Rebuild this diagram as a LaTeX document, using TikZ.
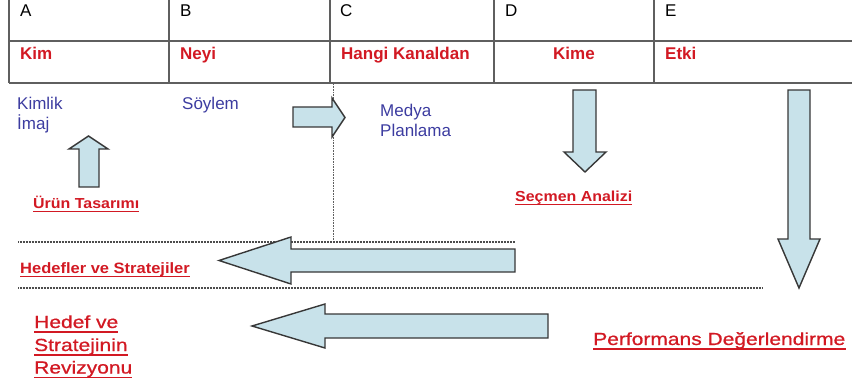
\documentclass[tikz,border=0pt]{standalone}
\usepackage{fontspec}
\setmainfont{Liberation Sans}
\newfontfamily\lblfont[FakeStretch=1.1]{Liberation Sans}
\newfontfamily\bigfont[FakeStretch=1.2,FakeBold=0.8]{Liberation Sans}
\definecolor{tred}{RGB}{210,25,35}
\definecolor{tblue}{RGB}{60,60,160}
\definecolor{afill}{RGB}{200,226,234}
\definecolor{aline}{RGB}{55,55,55}
\definecolor{gridc}{RGB}{95,95,95}
\tikzset{
  gridline/.style={draw=gridc, line width=1.3pt},
  dotline/.style={draw=gridc!80!black, line width=1.2pt, dash pattern=on 0.8pt off 0.7pt},
  vdotline/.style={draw=gridc, line width=0.8pt, dash pattern=on 0.8pt off 0.8pt},
  hdr/.style={anchor=base west, inner sep=0pt, font=\fontsize{17}{20}\selectfont},
  key/.style={anchor=base west, inner sep=0pt, text=tred, font=\fontsize{17}{20}\selectfont\bfseries},
  bluetxt/.style={anchor=base west, inner sep=0pt, text=tblue, font=\fontsize{17}{20}\selectfont},
  smalllbl/.style={anchor=base west, inner sep=0pt, text=tred, font=\lblfont\fontsize{14.5}{17}\selectfont\bfseries},
  biglbl/.style={anchor=base west, inner sep=0pt, text=tred, font=\bigfont\fontsize{17.5}{20}\selectfont},
  arrowshape/.style={fill=afill, draw=aline, line width=1.4pt, line join=miter},
  uline/.style={draw=tred, line width=1.5pt}
}
\begin{document}
\begin{tikzpicture}[x=1pt, y=-1pt]
\useasboundingbox (0,0) rectangle (852,385);
% table
\draw[gridline] (9,0) -- (9,83);
\draw[gridline] (9,41) -- (852,41);
\draw[gridline] (9,83) -- (852,83);
\foreach \cx in {169,330,494,654} \draw[gridline] (\cx,0) -- (\cx,83);
\node[hdr] (hA) at (20,17) {A};
\node[hdr] (hB) at (180,17) {B};
\node[hdr] (hC) at (340,17) {C};
\node[hdr] (hD) at (505,17) {D};
\node[hdr] (hE) at (665,17) {E};
\node[key] (kim) at (20,60) {Kim};
\node[key] (neyi) at (180,60) {Neyi};
\node[key] (hangi) at (341,60) {Hangi Kanaldan};
\node[key, anchor=base] (kime) at (574,60) {Kime};
\node[key] (etki) at (665,60) {Etki};
% dotted lines
\draw[vdotline] (333,84) -- (333,242);
\draw[dotline] (18,242) -- (515,242);
\draw[dotline] (18,288) -- (763,288);
% blue texts
\node[bluetxt] (kimlik) at (17,110) {Kimlik};
\node[bluetxt] (imaj) at (17,130) {İmaj};
\node[bluetxt] (soylem) at (182,110) {Söylem};
\node[bluetxt] (medya) at (380,117) {Medya};
\node[bluetxt] (planlama) at (380,137) {Planlama};
% arrows
\draw[arrowshape] (293,107) -- (332,107) -- (332,98) -- (345,117.5) -- (332,137) -- (332,127) -- (293,127) -- cycle;
\draw[arrowshape] (79,187) -- (79,149) -- (69,149) -- (88.5,136) -- (108,149) -- (99,149) -- (99,187) -- cycle;
\draw[arrowshape] (573,90) -- (596,90) -- (596,152) -- (606,152) -- (585,172) -- (564,152) -- (573,152) -- cycle;
\draw[arrowshape] (788,90) -- (810,90) -- (810,239) -- (820,239) -- (799,288) -- (778,239) -- (788,239) -- cycle;
\draw[arrowshape] (515,249) -- (291,249) -- (291,237) -- (219,260.5) -- (291,284) -- (291,272) -- (515,272) -- cycle;
\draw[arrowshape] (548,314) -- (325,314) -- (325,304) -- (252,326) -- (325,348) -- (325,338) -- (548,338) -- cycle;
% red labels
\node[smalllbl] (urun) at (33,208) {Ürün Tasarımı};
\node[smalllbl] (secmen) at (515,201) {Seçmen Analizi};
\node[smalllbl, font=\lblfont\fontsize{15}{17}\selectfont\bfseries] (hedefler) at (20,273) {Hedefler ve Stratejiler};
\node[biglbl] (rev1) at (34,328) {Hedef ve};
\node[biglbl] (rev2) at (34,351) {Stratejinin};
\node[biglbl] (rev3) at (34,373.5) {Revizyonu};
\node[biglbl] (perf) at (593,345) {Performans Değerlendirme};
\foreach \n in {urun,secmen,hedefler}
  \draw[uline] ([yshift=-3.5pt]\n.base west) -- ([yshift=-3.5pt]\n.base east);
\foreach \n in {rev1,rev2,rev3,perf}
  \draw[uline] ([yshift=-4pt]\n.base west) -- ([yshift=-4pt]\n.base east);
\end{tikzpicture}
\end{document}
